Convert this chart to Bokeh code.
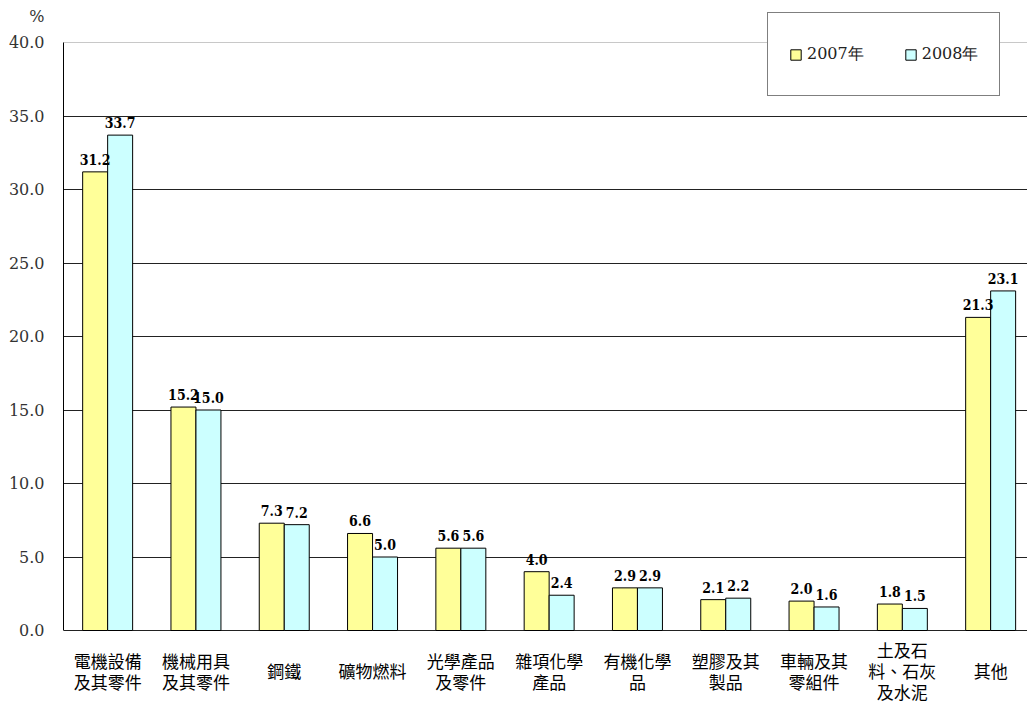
from bokeh.plotting import figure
from bokeh.models import (ColumnDataSource, Range1d, FixedTicker, PrintfTickFormatter,
                          Span, Label, Legend, LegendItem, LinearAxis, Grid)
from bokeh.embed import file_html
from bokeh.resources import INLINE
from bokeh.core.properties import value

categories = ["電機設備\n及其零件", "機械用具\n及其零件", "鋼鐵", "礦物燃料", "光學產品\n及零件",
              "雜項化學\n產品", "有機化學\n品", "塑膠及其\n製品", "車輛及其\n零組件",
              "土及石\n料、石灰\n及水泥", "其他"]
y2007 = [31.2, 15.2, 7.3, 6.6, 5.6, 4.0, 2.9, 2.1, 2.0, 1.8, 21.3]
y2008 = [33.7, 15.0, 7.2, 5.0, 5.6, 2.4, 2.9, 2.2, 1.6, 1.5, 23.1]
series_names = ["2007年", "2008年"]
y_ticks = [0, 5, 10, 15, 20, 25, 30, 35, 40]
unit_label = "%"

SERIF = "DejaVu Serif"
SERIF_COND = "DejaVu Serif Condensed"
CJK = "Noto Sans CJK TC"
W = 0.283

WIDTH, HEIGHT = 1027, 704
LEFT = 63
Y0_PX, Y40_PX = 630, 42
PX_PER_CAT = 88.3
ppu_y = (Y0_PX - Y40_PX) / 40.0

n = len(categories)
centers = [i + 0.5 for i in range(n)]
x07 = [c - W / 2 for c in centers]
x08 = [c + W / 2 for c in centers]

x_end = (WIDTH - LEFT) / PX_PER_CAT
y_start = -(HEIGHT - Y0_PX) / ppu_y
y_end = 40 + Y40_PX / ppu_y
pct_pos = 41.8

p = figure(width=WIDTH, height=HEIGHT, output_backend="svg", toolbar_location=None,
           x_range=Range1d(0, x_end), y_range=Range1d(y_start, y_end),
           x_axis_type=None, y_axis_type=None,
           min_border_left=LEFT, min_border_right=0, min_border_top=0, min_border_bottom=0)
p.outline_line_color = None
p.background_fill_color = "white"
p.border_fill_color = "white"

p.add_layout(Grid(dimension=1, ticker=FixedTicker(ticks=y_ticks[:-1]),
                  grid_line_color="#222222", grid_line_width=1))
p.add_layout(Span(location=y_ticks[-1], dimension="width", line_color="#c8c8c8", line_width=1))

s07 = ColumnDataSource(dict(x=x07, top=y2007, lab=[f"{v:.1f}" for v in y2007]))
s08 = ColumnDataSource(dict(x=x08, top=y2008, lab=[f"{v:.1f}" for v in y2008]))

r07 = p.vbar(x="x", top="top", bottom=0, width=W, source=s07, fill_color="#FFFF99",
             line_color="black", line_width=1)
r08 = p.vbar(x="x", top="top", bottom=0, width=W, source=s08, fill_color="#CCFFFF",
             line_color="black", line_width=1)

for s in (s07, s08):
    p.text(x="x", y="top", text="lab", source=s, text_align="center", text_baseline="bottom",
           y_offset=-7, text_font=value(SERIF_COND), text_font_style="bold", text_font_size="14px",
           text_color="black")

# axis line (nearest to frame) with the small inner tick at the top
line_axis = LinearAxis(ticker=FixedTicker(ticks=[y_ticks[-1]]), bounds=(0, 40),
                       major_label_overrides={y_ticks[-1]: ""})
line_axis.axis_line_color = "black"
line_axis.major_tick_line_color = "#333333"
line_axis.minor_tick_line_color = None
line_axis.major_label_standoff = 0
line_axis.major_tick_out = 0
line_axis.major_tick_in = 7
p.add_layout(line_axis, "left")

lab_axis = LinearAxis(ticker=FixedTicker(ticks=y_ticks + [pct_pos]),
                      formatter=PrintfTickFormatter(format="%.1f"),
                      major_label_overrides={pct_pos: unit_label})
lab_axis.axis_line_color = None
lab_axis.major_tick_line_color = None
lab_axis.minor_tick_line_color = None
lab_axis.major_tick_out = 0
lab_axis.major_tick_in = 0
lab_axis.major_label_text_font = SERIF
lab_axis.major_label_text_font_size = "16px"
lab_axis.major_label_text_color = "#333333"
lab_axis.major_label_standoff = 19
p.add_layout(lab_axis, "left")

LH = 21
for c, lab in zip(centers, categories):
    lines = lab.split("\n")
    k = len(lines)
    for j, t in enumerate(lines):
        off = -(40 + (j - (k - 1) / 2) * LH)
        p.add_layout(Label(x=c, y=0, y_offset=off, text=t, text_align="center",
                           text_baseline="middle", text_font=CJK, text_font_size="17px",
                           text_color="black"))

legend = Legend(items=[LegendItem(label=series_names[0], renderers=[r07]),
                       LegendItem(label=series_names[1], renderers=[r08])],
                orientation="horizontal", location=(767 - LEFT, HEIGHT - 96))
legend.label_text_font = SERIF
legend.label_text_font_size = "16px"
legend.label_text_color = "#222222"
legend.glyph_width = 13
legend.glyph_height = 13
legend.label_height = 40
legend.padding = 21
legend.spacing = 40
legend.label_standoff = 5
legend.border_line_color = "black"
legend.border_line_width = 1
legend.background_fill_alpha = 1
p.add_layout(legend, "center")

open("out.html", "w").write(file_html(p, INLINE))
